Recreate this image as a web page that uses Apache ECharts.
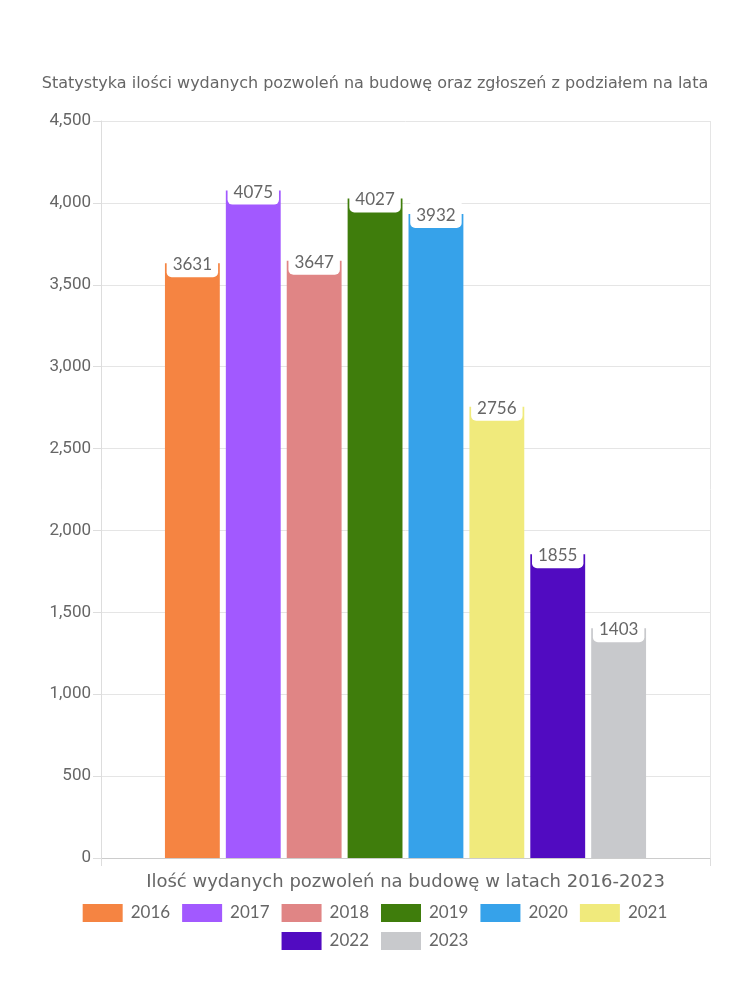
<!DOCTYPE html>
<html><head><meta charset="utf-8">
<script src="https://cdn.jsdelivr.net/npm/echarts@6/dist/echarts.min.js"></script>
<style>html,body{margin:0;padding:0;background:#fff}#c{width:750px;height:1000px}</style>
</head><body><div id="c"></div>
<script>
const years = ['2016','2017','2018','2019','2020','2021','2022','2023'];
const values = [3631, 4075, 3647, 4027, 3932, 2756, 1855, 1403];
const colors = ['#f58442','#a259ff','#e08585','#3f7d0c','#36a2ea','#f0ea7c','#510bc1','#c8c9cc'];
const yTicks = [0, 500, 1000, 1500, 2000, 2500, 3000, 3500, 4000, 4500];
const title = 'Statystyka ilości wydanych pozwoleń na budowę oraz zgłoszeń z podziałem na lata';
const xName = 'Ilość wydanych pozwoleń na budowę w latach 2016-2023';

const chart = echarts.init(document.getElementById('c'));
const font = 'Lato, "Noto Sans", sans-serif';
const wide = '"DejaVu Sans", sans-serif';
const legendBase = {
  left: 'center', itemWidth: 40, itemHeight: 18, itemGap: 12, icon: 'rect',
  textStyle: { fontFamily: font, fontSize: 17, color: '#666', padding: [0, 0, 0, 3] }
};
chart.setOption({
  animation: false,
  title: { text: title, left: 'center', top: 71, textStyle: { fontFamily: wide, fontSize: 16, fontWeight: 'normal', color: '#666' } },
  grid: { left: 101, right: 40, top: 121, bottom: 142 },
  legend: [
    Object.assign({}, legendBase, { top: 899, data: years.slice(0, 6) }),
    Object.assign({}, legendBase, { top: 927, data: years.slice(6) })
  ],
  xAxis: {
    type: 'category', data: [''],
    name: xName, nameLocation: 'middle', nameGap: 15,
    nameTextStyle: { fontFamily: wide, fontSize: 18, color: '#666' },
    axisLine: { lineStyle: { color: '#ccc' } },
    axisTick: { show: true, length: 8, lineStyle: { color: '#ddd' } },
    splitLine: { show: true, lineStyle: { color: '#e5e5e5' } },
    axisLabel: { show: false }
  },
  yAxis: {
    type: 'value', min: yTicks[0], max: yTicks[yTicks.length-1], interval: 500,
    axisLine: { show: true, lineStyle: { color: '#ddd' } },
    axisTick: { show: true, length: 8, lineStyle: { color: '#ddd' } },
    splitLine: { lineStyle: { color: '#e5e5e5' } },
    axisLabel: { fontFamily: 'Roboto, sans-serif', fontSize: 17, color: '#666', margin: 10,
      formatter: v => v.toLocaleString('en-US') }
  },
  series: years.map((y, i) => ({
    name: y, type: 'bar', barGap: '11%', barCategoryGap: '21%',
    itemStyle: { color: colors[i] },
    data: [values[i]],
    label: {
      show: true, position: 'insideTop', offset: [0, -16],
      backgroundColor: '#fff', borderRadius: [0, 0, 5, 5], padding: [4, 6, 4, 6],
      fontFamily: font, fontSize: 17, color: '#666'
    }
  }))
});
</script></body></html>
